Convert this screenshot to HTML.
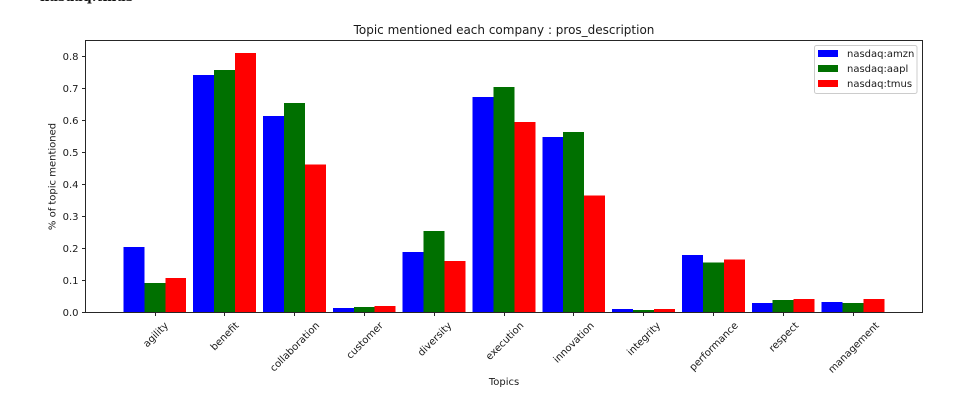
<!DOCTYPE html>
<html>
<head>
<meta charset="utf-8">
<style>
html,body{margin:0;padding:0;background:#fff;width:960px;height:403px;overflow:hidden}
svg{display:block}
text{font-family:"DejaVu Sans","Liberation Sans",sans-serif;fill:#1a1a1a;text-rendering:optimizeLegibility}
</style>
</head>
<body>
<svg id="chart" xmlns="http://www.w3.org/2000/svg" width="960" height="403" viewBox="0 0 960 403">
  <rect x="0" y="0" width="960" height="403" fill="#ffffff"/>
  <text x="40" y="0.8" font-size="13" font-weight="bold" style="font-family:'DejaVu Serif','Liberation Serif',serif;fill:#111">nasdaq:tmus</text>
  <text x="504" y="34" font-size="12" text-anchor="middle">Topic mentioned each company : pros_description</text>
  <text transform="translate(55.5 176.5) rotate(-90)" font-size="10" text-anchor="middle">% of topic mentioned</text>
  <text x="504" y="385" font-size="10" text-anchor="middle">Topics</text>
  <g id="bars" shape-rendering="crispEdges"></g>
  <g id="axes" shape-rendering="crispEdges"></g>
  <rect x="85.5" y="40.5" width="837" height="272" fill="none" stroke="#262626" stroke-width="1" shape-rendering="crispEdges"/>
  <g>
    <rect x="814.5" y="45.5" width="102.5" height="48" rx="2" fill="#fff" fill-opacity="0.8" stroke="#cccccc"/>
    <rect x="818" y="50" width="20" height="7" fill="#0000ff"/>
    <text x="847" y="57" font-size="10">nasdaq:amzn</text>
    <rect x="818" y="65" width="20" height="7" fill="#007000"/>
    <text x="847" y="72" font-size="10">nasdaq:aapl</text>
    <rect x="818" y="80" width="20" height="7" fill="#ff0000"/>
    <text x="847" y="87" font-size="10">nasdaq:tmus</text>
  </g>
</svg>
<script>
const categories = ["agility","benefit","collaboration","customer","diversity","execution","innovation","integrity","performance","respect","management"];
const amzn = [0.203,0.742,0.614,0.013,0.188,0.673,0.547,0.009,0.178,0.028,0.031];
const aapl = [0.091,0.758,0.654,0.016,0.253,0.705,0.563,0.006,0.155,0.038,0.028];
const tmus = [0.106,0.811,0.462,0.019,0.159,0.594,0.365,0.009,0.165,0.040,0.040];
const yTicks = ["0.0","0.1","0.2","0.3","0.4","0.5","0.6","0.7","0.8"];

const NS = "http://www.w3.org/2000/svg";
const barsGroup = document.getElementById("bars");
const axesGroup = document.getElementById("axes");
function xScale(i){ return 154.8 + i * 69.82; }
function yScale(v){ return 312 - v * 319.5; }
const barWidth = 20.95;

function drawSeries(values, offset, color, key){
  values.forEach(function(v, i){
    const r = document.createElementNS(NS, "rect");
    r.setAttribute("x", xScale(i) + offset * barWidth - barWidth / 2);
    r.setAttribute("y", yScale(v));
    r.setAttribute("width", barWidth);
    r.setAttribute("height", yScale(0) - yScale(v));
    r.setAttribute("fill", color);
    
    
    barsGroup.appendChild(r);
  });
}
drawSeries(amzn, -1, "#0000ff", "amzn");
drawSeries(aapl, 0, "#007000", "aapl");
drawSeries(tmus, 1, "#ff0000", "tmus");

yTicks.forEach(function(label){
  const y = Math.round(yScale(parseFloat(label))) + 0.5;
  const t = document.createElementNS(NS, "line");
  t.setAttribute("x1", 82);
  t.setAttribute("x2", 85.5);
  t.setAttribute("y1", y);
  t.setAttribute("y2", y);
  t.setAttribute("stroke", "#262626");
  
  
  axesGroup.appendChild(t);
  const s = document.createElementNS(NS, "text");
  s.setAttribute("x", 78.5);
  s.setAttribute("y", y + 3.5);
  s.setAttribute("font-size", "10");
  s.setAttribute("text-anchor", "end");
  s.textContent = label;
  
  
  axesGroup.appendChild(s);
});

categories.forEach(function(label, i){
  const x = Math.floor(xScale(i) + 0.2) + 0.5;
  const t = document.createElementNS(NS, "line");
  t.setAttribute("x1", x);
  t.setAttribute("x2", x);
  t.setAttribute("y1", 312);
  t.setAttribute("y2", 316);
  t.setAttribute("stroke", "#262626");
  
  
  axesGroup.appendChild(t);
  const s = document.createElementNS(NS, "text");
  s.setAttribute("font-size", "10");
  s.setAttribute("text-anchor", "middle");
  s.textContent = label;
  
  
  axesGroup.appendChild(s);
  const half = (s.getComputedTextLength() + 11.6) * 0.7071 / 2;
  s.setAttribute("transform", "translate(" + x + " " + (319.5 + half) + ") rotate(-45) translate(0 3.5)");
});
</script>
</body>
</html>
